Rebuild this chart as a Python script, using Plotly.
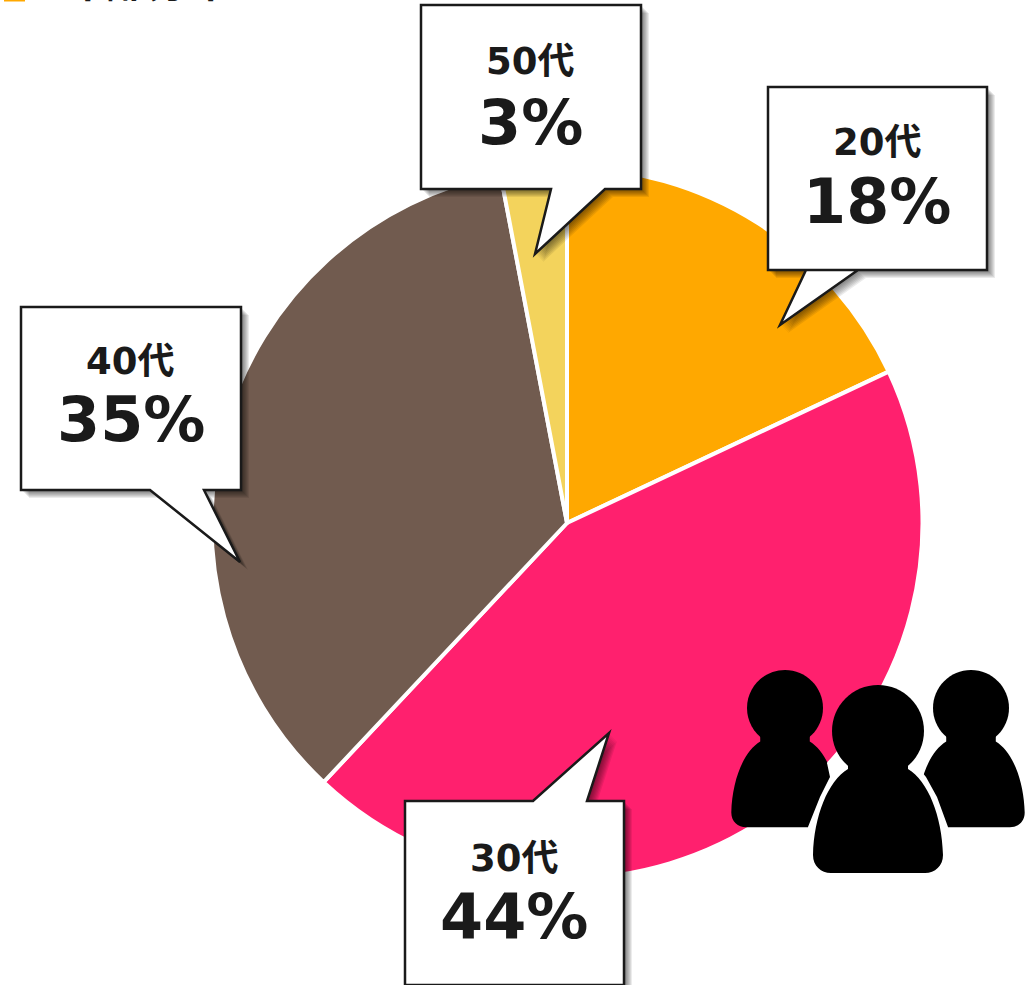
import re
import plotly.graph_objects as go

W, H = 1026, 985
categories = ["20代", "30代", "40代", "50代"]
shares = [18, 44, 35, 3]
colors = ["#FFA800", "#FF206E", "#715B4F", "#F3D35C"]
title_text = "年齢分布"
FONT = "DejaVu Sans, Noto Sans CJK JP, sans-serif"
INK = "#1a1a1a"

# Callout geometry in page pixels: box (x0, y0, x1, y1), tail (a, tip, b), label y, value y
callouts = {
    "20代": ((768, 87, 987, 270), ((806, 270), (780, 325), (858, 270)), 143, 201),
    "30代": ((405, 801, 624, 985), ((587, 801), (609, 733), (533, 801)), 858, 916),
    "40代": ((21, 307, 241, 490), ((204, 490), (240, 562), (150, 490)), 361, 420),
    "50代": ((421, 5, 641, 189), ((605, 189), (535, 254), (551, 189)), 62, 122),
}


def px(x, y):
    return f"{x / W:.5f} {1 - y / H:.5f}"


def to_paper(path):
    """Convert a path written in page pixels (y down) to paper coordinates."""
    return re.sub(r"(-?[\d.]+) (-?[\d.]+)", lambda m: px(float(m[1]), float(m[2])), path)


def shape(path, fill, line=None, width=0):
    return dict(type="path", xref="paper", yref="paper", layer="above",
                path=to_paper(path), fillcolor=fill,
                line=dict(color=line or "rgba(0,0,0,0)", width=width))


def callout_path(box, tail, dx=0, dy=0):
    x0, y0, x1, y1 = box
    a, tip, b = tail
    if tip[1] > y1:  # tail hangs from the bottom edge
        pts = [(x0, y0), (x1, y0), (x1, y1), a, tip, b, (x0, y1)]
    else:            # tail rises from the top edge
        pts = [(x0, y0), b, tip, a, (x1, y0), (x1, y1), (x0, y1)]
    return "M" + " L".join(f"{x + dx} {y + dy}" for x, y in pts) + " Z"


def head_path(cx, cy, r):
    k = 0.5523 * r
    return (f"M{cx - r} {cy} C{cx - r} {cy - k} {cx - k} {cy - r} {cx} {cy - r} "
            f"C{cx + k} {cy - r} {cx + r} {cy - k} {cx + r} {cy} "
            f"C{cx + r} {cy + k} {cx + k} {cy + r} {cx} {cy + r} "
            f"C{cx - k} {cy + r} {cx - r} {cy + k} {cx - r} {cy} Z")


def body_path(cx, cy, r):
    s = r / 46
    def p(x, y):
        return f"{cx + x * s:.2f} {cy + y * s:.2f}"
    return (f"M{p(-30, 30)} L{p(-30, 38)} C{p(-50, 50)} {p(-64, 85)} {p(-65, 124)} "
            f"C{p(-65, 135)} {p(-57, 142)} {p(-47, 142)} L{p(47, 142)} "
            f"C{p(57, 142)} {p(65, 135)} {p(65, 124)} "
            f"C{p(64, 85)} {p(50, 50)} {p(30, 38)} L{p(30, 30)} Z")


fig = go.Figure(go.Pie(
    labels=categories, values=shares, sort=False, direction="clockwise", rotation=0,
    marker=dict(colors=colors, line=dict(color="white", width=4)),
    textinfo="none", hoverinfo="skip", showlegend=False,
    domain=dict(x=[211.5 / W, 922.5 / W], y=[1 - 878.5 / H, 1 - 167.5 / H]),
))

shapes = [dict(type="rect", xref="paper", yref="paper", layer="above",
               x0=4 / W, x1=25 / W, y0=1 - 1.5 / H, y1=1, fillcolor="#FFA800", line_width=0)]
annotations = [dict(text=f"<b>{title_text}</b>", xref="paper", yref="paper", x=147 / W, y=1 - (-21) / H,
                    xanchor="center", yanchor="middle", showarrow=False,
                    font=dict(family="Noto Sans CJK JP", size=41, color=INK))]

for name, share in zip(categories, shares):
    box, tail, y_label, y_value = callouts[name]
    for off in (2, 3, 4, 5, 6, 7, 8):
        shapes.append(shape(callout_path(box, tail, off, off), "rgba(0,0,0,0.08)"))
    shapes.append(shape(callout_path(box, tail), "white", INK, 2.5))
    xc = (box[0] + box[2]) / 2 - 0.5
    annotations.append(dict(text=f"<b>{name}</b>", xref="paper", yref="paper", x=xc / W, y=1 - y_label / H,
                            xanchor="center", yanchor="middle", showarrow=False,
                            font=dict(family=FONT, size=37, color=INK)))
    annotations.append(dict(text=f"<b>{share}%</b>", xref="paper", yref="paper", x=xc / W, y=1 - y_value / H,
                            xanchor="center", yanchor="middle", showarrow=False,
                            font=dict(family=FONT, size=62, color=INK)))

# People icon: two back figures, a white halo, then the front figure
for cx, cy, r in [(785, 708, 38), (971, 708, 38)]:
    shapes.append(shape(head_path(cx, cy, r), "black"))
    shapes.append(shape(body_path(cx, cy + 2, r), "black"))
halo = ("M837 752 L827 763 L830 777 L820 797 L808 827 L808 876 L948 876 L948 827 "
        "L937 797 L926 777 L908 755 Z")
shapes.append(shape(halo, "white"))
shapes.append(shape(head_path(878, 731, 46), "black"))
shapes.append(shape(body_path(878, 731, 46), "black"))

fig.update_layout(width=W, height=H, margin=dict(l=0, r=0, t=0, b=0),
                  paper_bgcolor="white", plot_bgcolor="white",
                  shapes=shapes, annotations=annotations)
fig.write_html("out.html", config={"displayModeBar": False},
               post_script="document.body.style.margin='0';document.documentElement.style.overflow='hidden';")
